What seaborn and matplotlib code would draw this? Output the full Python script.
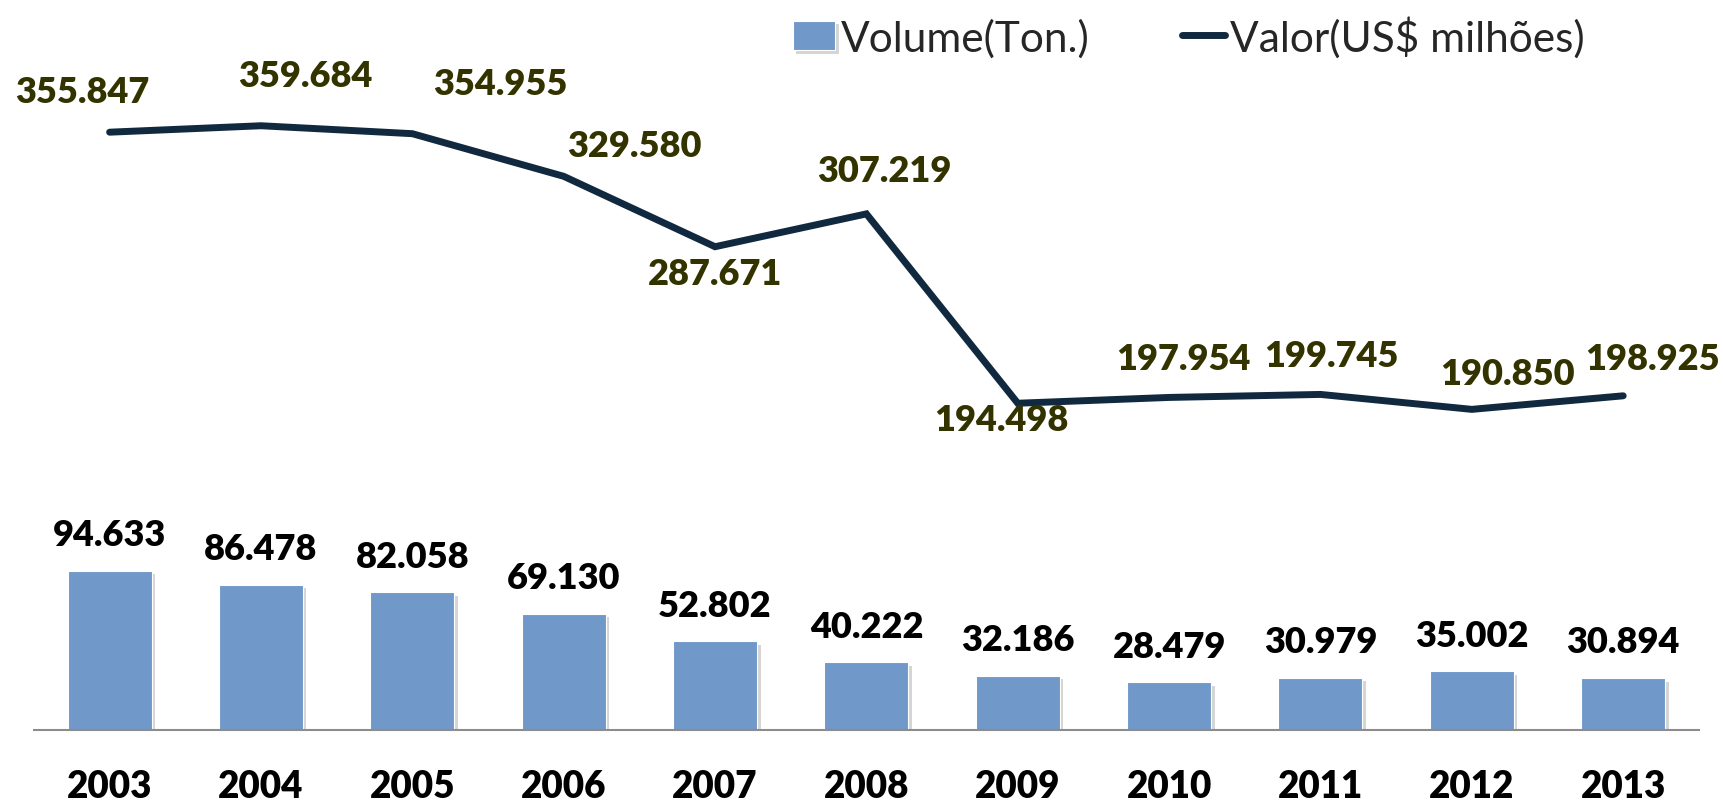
import numpy as np
import pandas as pd
import matplotlib
matplotlib.use("Agg")
import matplotlib.pyplot as plt
import matplotlib.patheffects as pe
import seaborn as sns

years = ["2003", "2004", "2005", "2006", "2007", "2008", "2009", "2010", "2011", "2012", "2013"]
volume = [94.633, 86.478, 82.058, 69.130, 52.802, 40.222, 32.186, 28.479, 30.979, 35.002, 30.894]
valor = [355.847, 359.684, 354.955, 329.580, 287.671, 307.219, 194.498, 197.954, 199.745, 190.850, 198.925]
volume_labels = ["94.633", "86.478", "82.058", "69.130", "52.802", "40.222", "32.186", "28.479", "30.979", "35.002", "30.894"]
valor_labels = ["355.847", "359.684", "354.955", "329.580", "287.671", "307.219", "194.498", "197.954", "199.745", "190.850", "198.925"]
# label offsets (points) for line labels
valor_dx = [-20, 32, 63, 51, 0, 13, -12, 10, 8, 26, 21]
valor_dy = [29, 36, 36, 22, -19, 31, -12, 28, 28, 26, 27]

sns.set_theme(style="white")
plt.rcParams["font.family"] = ["Lato", "DejaVu Sans"]

BAR = "#7098C8"
LINE = "#10293F"
LBL = "#333300"

df = pd.DataFrame({"ano": years, "volume": volume, "valor": valor})
df["pos"] = np.arange(len(years))

fig = plt.figure(figsize=(17.23, 8.03), dpi=100)
ax = fig.add_axes([0.0197, 0.0897, 0.9663, 0.8368])

sns.barplot(data=df, x="ano", y="volume", color=BAR, width=0.555, saturation=1,
            ax=ax, label="Volume(Ton.)", edgecolor="white", linewidth=0.8)
for p in ax.patches:
    p.set_path_effects([pe.SimplePatchShadow(offset=(2.5, -2.5), shadow_rgbFace="#888888", alpha=0.35), pe.Normal()])

sns.lineplot(data=df, x="pos", y="valor", color=LINE, linewidth=5.0, ax=ax,
             label="Valor(US$ milhões)", solid_capstyle="round", solid_joinstyle="miter")

for i, (v, t) in enumerate(zip(volume, volume_labels)):
    ax.annotate(t, (i, v), xytext=(0, 26), textcoords="offset points",
                ha="center", va="center", fontsize=26, fontweight="heavy", color="black")
for i, (v, t) in enumerate(zip(valor, valor_labels)):
    ax.annotate(t, (i, v), xytext=(valor_dx[i], valor_dy[i]), textcoords="offset points",
                ha="center", va="center", fontsize=26, fontweight="heavy", color=LBL)

ax.set_xlim(-0.5, len(years) - 0.5)
ax.set_ylim(0, 400)
ax.set_yticks([])
ax.set_xlabel("")
ax.set_ylabel("")
for s in ["top", "right", "left"]:
    ax.spines[s].set_visible(False)
ax.spines["bottom"].set_color("#8c8c8c")
ax.spines["bottom"].set_linewidth(1.5)
ax.tick_params(axis="x", length=0, pad=28, labelsize=26.5)
for lab in ax.get_xticklabels():
    lab.set_fontweight("heavy")
    lab.set_color("black")

handles, labels = ax.get_legend_handles_labels()
order = [labels.index("Volume(Ton.)"), labels.index("Valor(US$ milhões)")]
leg = ax.legend([handles[k] for k in order], [labels[k] for k in order],
                loc="upper left", bbox_to_anchor=(0.433, 1.12), ncol=2, frameon=False,
                fontsize=30.5, handlelength=1.0, handletextpad=0.12, columnspacing=2.2)

fig.savefig("out.png", dpi=100)
